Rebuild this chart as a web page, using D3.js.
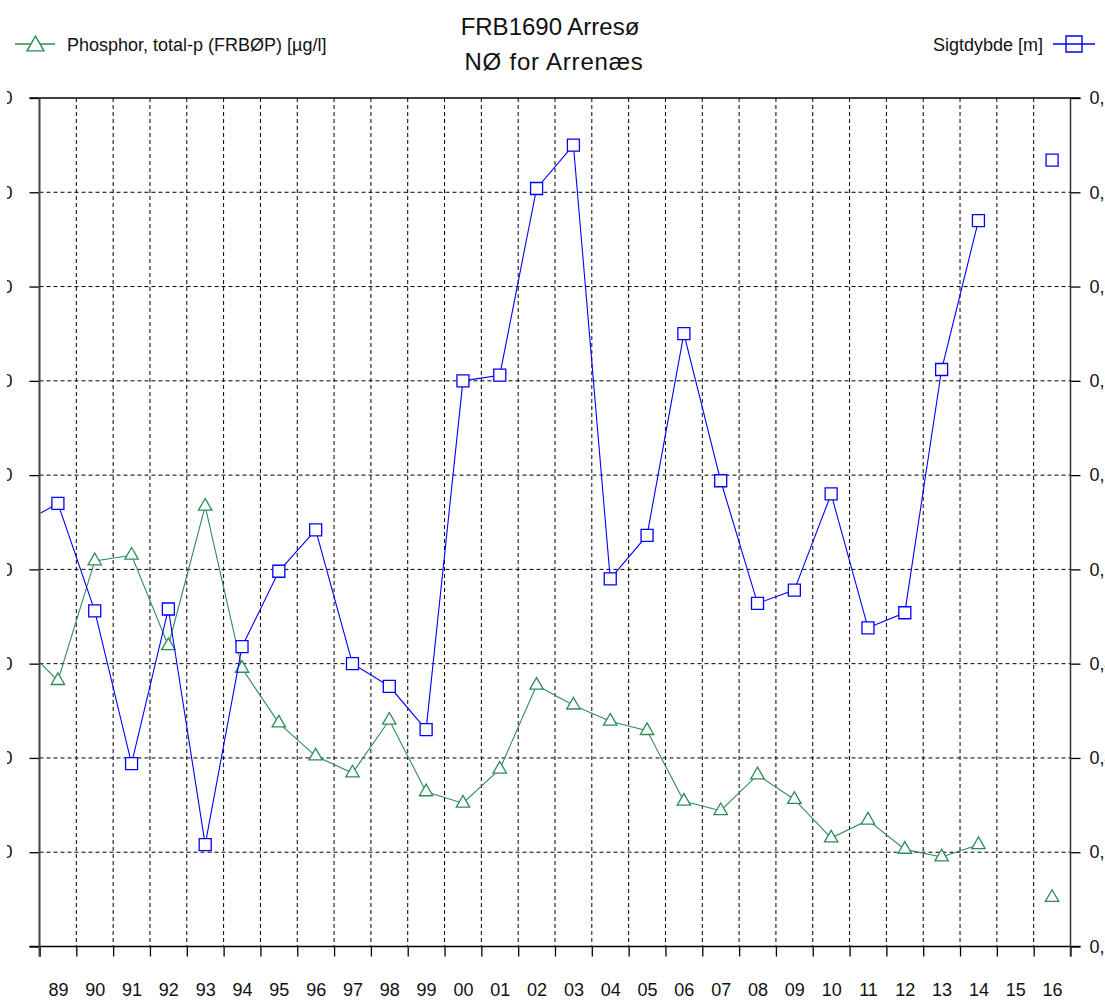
<!DOCTYPE html>
<html>
<head>
<meta charset="utf-8">
<script src="https://cdn.jsdelivr.net/npm/d3@7"></script>
<style>
  html, body { margin: 0; padding: 0; background: #fff; overflow: hidden; }
  svg { display: block; font-family: "Liberation Sans", Arial, sans-serif; }
  .grid { stroke: #000; stroke-width: 1; stroke-dasharray: 4,3; }
  .tick-lbl { font-size: 18px; fill: #111; }
</style>
</head>
<body>
<div id="chart"></div>
<script>
// FRB1690 Arresø, NØ for Arrenæs — total-P (left) and Secchi depth (right), yearly values

const years = [1988, 1989, 1990, 1991, 1992, 1993, 1994, 1995, 1996, 1997, 1998, 1999, 2000, 2001, 2002,
  2003, 2004, 2005, 2006, 2007, 2008, 2009, 2010, 2011, 2012, 2013, 2014, 2015, 2016];
// Phosphor, total-p (FRBØP) [µg/l]
const phosphor = [321, 282, 409, 415, 319, 467, 295, 237, 202, 184, 240, 164, 152, 188, 277,
  256, 239, 229, 154, 144, 182, 156, 115, 134, 103, 95, 108, null, 52];
// Sigtdybde [m]
const sigtdybde = [0.524, 0.535, 0.478, 0.397, 0.479, 0.354, 0.459, 0.499, 0.521, 0.450, 0.438, 0.415, 0.600, 0.603, 0.702,
  0.725, 0.495, 0.518, 0.625, 0.547, 0.482, 0.489, 0.540, 0.469, 0.477, 0.606, 0.685, null, 0.717];

const leftTicks = [0, 100, 200, 300, 400, 500, 600, 700, 800, 900];
const rightTicks = [0.30, 0.35, 0.40, 0.45, 0.50, 0.55, 0.60, 0.65, 0.70, 0.75];
const yearLabels = [1989, 1990, 1991, 1992, 1993, 1994, 1995, 1996, 1997, 1998, 1999, 2000, 2001, 2002,
  2003, 2004, 2005, 2006, 2007, 2008, 2009, 2010, 2011, 2012, 2013, 2014, 2015, 2016];

const W = 1105, H = 1001;
const plot = { left: 39.5, right: 1070.5, top: 98, bottom: 946.5 };
const green = "#2e8b57", blue = "#0000ff";

const svg = d3.select("#chart").append("svg").attr("width", W).attr("height", H);

const x = d3.scaleLinear().domain([1988.5, 2016.5]).range([plot.left, plot.right]);
const yL = d3.scaleLinear().domain([0, 900]).range([plot.bottom, plot.top]);
const yR = d3.scaleLinear().domain([0.30, 0.75]).range([plot.bottom, plot.top]);
const bounds = yearLabels.map(y => y - 0.5).concat([2016.5]);

// gridlines
svg.append("g").selectAll("line").data(leftTicks.slice(1, -1)).join("line")
  .attr("class", "grid")
  .attr("x1", plot.left).attr("x2", plot.right)
  .attr("y1", d => yL(d)).attr("y2", d => yL(d));
svg.append("g").selectAll("line").data(bounds.slice(1, -1)).join("line")
  .attr("class", "grid")
  .attr("x1", d => x(d)).attr("x2", d => x(d))
  .attr("y1", plot.top).attr("y2", plot.bottom);

// axes
const fmtL = d3.format("d");
const fmtR = v => d3.format(".2f")(v).replace(".", ",");

// the left labels are cut by the window frame in the original, only the last glyph edge shows
svg.append("clipPath").attr("id", "clipL").append("rect")
  .attr("x", 7).attr("y", 0).attr("width", 60).attr("height", H);

const gL = svg.append("g").attr("transform", `translate(${plot.left},0)`)
  .call(d3.axisLeft(yL).tickValues(leftTicks).tickSize(10).tickSizeOuter(0).tickFormat(fmtL));
gL.selectAll(".tick text").attr("text-anchor", "start").attr("x", -57)
  .attr("clip-path", "url(#clipL)");
gL.attr("clip-path", null);
gL.selectAll(".tick text").each(function() {
  // clip is in the axis' local frame, so move it with the group
  d3.select(this).attr("clip-path", "url(#clipL2)");
});
svg.append("clipPath").attr("id", "clipL2").append("rect")
  .attr("x", 7 - plot.left).attr("y", -H).attr("width", 60).attr("height", 3 * H);

const gR = svg.append("g").attr("transform", `translate(${plot.right},0)`)
  .call(d3.axisRight(yR).tickValues(rightTicks).tickSize(10).tickSizeOuter(0).tickFormat(fmtR));
gR.selectAll(".tick text").attr("x", 19);

const gB = svg.append("g").attr("transform", `translate(0,${plot.bottom})`)
  .call(d3.axisBottom(x).tickValues(bounds.concat([1988.5])).tickSize(10).tickSizeOuter(0).tickFormat(""));
const gBL = svg.append("g").attr("transform", `translate(0,${plot.bottom})`)
  .call(d3.axisBottom(x).tickValues(yearLabels).tickSize(0).tickPadding(37).tickFormat(d => String(d).slice(2)));
gBL.select(".domain").remove();

svg.selectAll(".tick text").attr("class", "tick-lbl").attr("font-family", null).attr("font-size", null);
svg.selectAll(".tick line").attr("stroke", "#000").attr("stroke-width", 1.3);
svg.selectAll(".domain").remove();

// frame
const frame = svg.append("g").attr("stroke", "#000").attr("stroke-width", 1.5);
frame.append("line").attr("x1", plot.left - 10).attr("x2", plot.right + 10)
  .attr("y1", plot.top).attr("y2", plot.top);
frame.append("line").attr("x1", plot.left - 10).attr("x2", plot.right + 10)
  .attr("y1", plot.bottom).attr("y2", plot.bottom);
frame.append("line").attr("x1", plot.left).attr("x2", plot.left)
  .attr("y1", plot.top).attr("y2", plot.bottom + 10).attr("stroke", "#444").attr("stroke-width", 2);
frame.append("line").attr("x1", plot.right).attr("x2", plot.right)
  .attr("y1", plot.top).attr("y2", plot.bottom + 10).attr("stroke", "#333").attr("stroke-width", 1.5);

// data
svg.append("clipPath").attr("id", "clip").append("rect")
  .attr("x", plot.left + 1).attr("y", plot.top - 10)
  .attr("width", plot.right - plot.left - 2).attr("height", plot.bottom - plot.top + 20);
const gData = svg.append("g").attr("clip-path", "url(#clip)");

const triangle = d3.symbol(d3.symbolTriangle, 78);
const square = d3.symbol(d3.symbolSquare, 144);

function series(values, y, color, sym) {
  const pts = years.map((yr, i) => ({ yr, v: values[i] }));
  gData.append("path").datum(pts)
    .attr("fill", "none").attr("stroke", color).attr("stroke-width", 1.1)
    .attr("d", d3.line().defined(d => d.v != null).x(d => x(d.yr)).y(d => y(d.v)));
  gData.append("g").selectAll("path").data(pts.filter(d => d.v != null)).join("path")
    .attr("transform", d => `translate(${x(d.yr)},${y(d.v)})`)
    .attr("d", sym).attr("fill", "#fff").attr("stroke", color).attr("stroke-width", 1.3);
}
series(phosphor, yL, green, triangle);
series(sigtdybde, yR, blue, square);

// title
svg.append("text").attr("x", 550).attr("y", 35).attr("text-anchor", "middle")
  .attr("font-size", 24).attr("fill", "#111").text("FRB1690 Arresø");
svg.append("text").attr("x", 554).attr("y", 70).attr("text-anchor", "middle")
  .attr("font-size", 24).attr("letter-spacing", 0.8).attr("fill", "#111").text("NØ for Arrenæs");

// legends
const lg = svg.append("g");
lg.append("line").attr("x1", 15).attr("x2", 55).attr("y1", 44).attr("y2", 44)
  .attr("stroke", green).attr("stroke-width", 1.3);
lg.append("path").attr("transform", "translate(35.5,46)").attr("d", d3.symbol(d3.symbolTriangle, 125))
  .attr("fill", "#fff").attr("stroke", green).attr("stroke-width", 1.4);
lg.append("text").attr("x", 67).attr("y", 50.5).attr("font-size", 18).attr("fill", "#111")
  .text("Phosphor, total-p (FRBØP) [µg/l]");

lg.append("line").attr("x1", 1053).attr("x2", 1095).attr("y1", 44).attr("y2", 44)
  .attr("stroke", blue).attr("stroke-width", 1.3);
lg.append("path").attr("transform", "translate(1074,44)").attr("d", d3.symbol(d3.symbolSquare, 256))
  .attr("fill", "none").attr("stroke", blue).attr("stroke-width", 1.4);
lg.append("text").attr("x", 1043).attr("y", 50.5).attr("text-anchor", "end")
  .attr("font-size", 18).attr("fill", "#111").text("Sigtdybde [m]");
</script>
</body>
</html>
